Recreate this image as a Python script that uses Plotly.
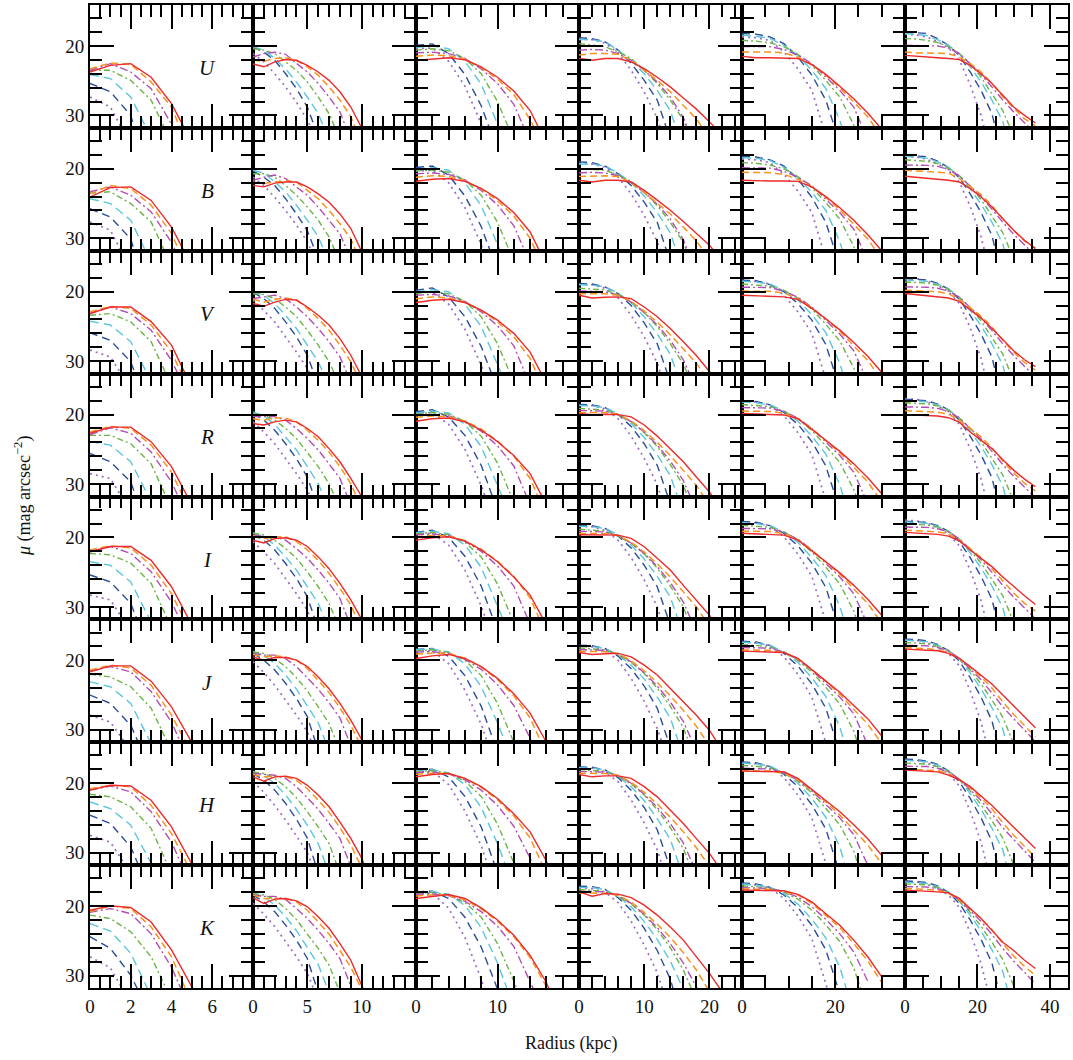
import plotly.graph_objects as go
from plotly.subplots import make_subplots

BANDS = ["U", "B", "V", "R", "I", "J", "H", "K"]
COL_X = [
    [0, 1, 2, 3, 4, 5, 6],
    [0, 1, 2, 3, 4, 5, 6, 7, 8, 9, 10, 11],
    [0, 2, 4, 6, 8, 10, 12, 14, 16, 18],
    [0, 2, 4, 6, 8, 10, 12, 14, 16, 18, 20, 22, 24],
    [0, 3, 6, 9, 12, 15, 18, 21, 24, 27, 30],
    [0, 3, 6, 9, 12, 15, 18, 21, 24, 27, 30, 33, 36],
]
X_RANGES = [[0, 8], [0, 15], [0, 20], [0, 25], [0, 35], [0, 45]]
X_TICKS = [[0, 2, 4, 6], [0, 5, 10], [0, 10], [0, 10, 20], [0, 20], [0, 20, 40]]
X_MINOR = [0.5, 1, 2, 2, 5, 5]
Y_RANGE = [31.8, 14.1]
Y_TICKS = [20, 30]

# curve order in every panel: purple, dark blue, cyan, green, magenta, orange, red
# ---------------- column 1 ----------------
U_c1 = [[27.35, 28.8, 34.3], [25.4, 26.6, 30.0, 40], [24.1, 24.7, 27.35, 33.2],
        [23.5, 23.5, 24.95, 27.8, 33.9], [23.5, 22.55, 23.75, 26.15, 31.3, 36],
        [23.3, 22.45, 22.65, 25.2, 28.8, 36], [23.75, 22.8, 22.55, 24.5, 28.3, 33.9]]
B_c1 = [[27.65, 28.85, 34.5], [25.75, 26.95, 30.1, 40], [24.3, 25.0, 27.4, 33.5],
        [23.5, 23.3, 25.0, 27.65, 34], [23.3, 22.6, 23.8, 26.2, 30.6, 37],
        [23.6, 22.4, 22.85, 25.25, 29.3, 36], [24.05, 22.7, 22.6, 24.55, 28.4, 34]]
V_c1 = [[28.4, 29.4, 34], [25.9, 27.0, 30.1, 38], [24.25, 24.8, 27.2, 32.9],
        [23.4, 23.15, 24.35, 27.2, 33.5], [23.15, 22.2, 23.15, 25.55, 29.9, 36],
        [22.9, 22.1, 22.4, 24.8, 28.7, 35], [23.15, 22.2, 22.2, 24.3, 27.7, 33.8]]
R_c1 = [[28.5, 29.2, 34], [25.6, 26.8, 29.7, 38], [23.9, 24.4, 26.8, 32.5],
        [23.0, 23.0, 24.2, 27.1, 33.5], [22.9, 21.9, 22.7, 25.4, 29.7, 36],
        [22.5, 21.7, 22.0, 24.4, 28.3, 34.5], [22.7, 21.8, 21.8, 23.9, 27.5, 33.0]]
I_c1 = [[28.3, 29.0, 33.5], [25.4, 26.4, 29.5, 37], [23.5, 24.0, 26.4, 32.2],
        [22.3, 22.5, 23.7, 26.6, 33], [22.06, 21.3, 22.3, 24.95, 29.3, 35.5],
        [21.8, 21.2, 21.5, 24.0, 28.1, 34], [22.06, 21.3, 21.3, 23.3, 27.1, 32.6]]
J_c1 = [[27.9, 28.9, 33], [25.0, 26.2, 29.35, 36], [23.1, 23.8, 26.2, 32],
        [22.0, 22.4, 23.8, 26.9, 33], [21.55, 20.9, 21.65, 24.5, 28.9, 35.5],
        [21.4, 20.7, 21.1, 23.6, 27.9, 33.5], [21.65, 20.8, 20.8, 23.0, 26.7, 31.9, 37]]
H_c1 = [[27.5, 28.5, 33], [24.6, 25.8, 29.2, 36], [22.7, 23.65, 26.05, 31.8, 37],
        [21.6, 21.95, 23.4, 26.5, 33], [21.0, 20.4, 21.25, 24.1, 28.5, 35],
        [20.8, 20.3, 20.5, 23.2, 27.25, 33], [21.0, 20.3, 20.4, 22.45, 26.3, 31.8, 37]]
K_c1 = [[27.3, 28.9, 34], [24.4, 26.1, 29.96, 36], [22.5, 23.6, 26.8, 33],
        [21.3, 21.8, 23.7, 27.3, 33.5], [20.9, 20.35, 21.1, 24.0, 28.8, 35.5],
        [20.8, 19.97, 20.35, 23.0, 27.3, 34], [20.6, 19.97, 20.2, 22.3, 26.3, 31.4, 37]]

# ---------------- column 2 ----------------
U_c2 = [[21.1, 22.3, 24.0, 25.9, 28.1, 30.7, 34], [20.1, 20.9, 22.06, 24.0, 26.15, 28.8, 33],
        [20.1, 20.6, 21.8, 23.3, 25.2, 27.35, 29.75, 33.5], [20.4, 20.6, 21.1, 22.3, 23.5, 25.2, 27.35, 29.75, 33.5],
        [21.6, 21.1, 20.9, 21.2, 22.5, 23.75, 25.4, 27.35, 29.5, 33.5],
        [22.06, 22.2, 21.8, 21.7, 22.06, 23.0, 24.2, 25.9, 27.8, 30.2, 34],
        [22.6, 23.0, 22.3, 21.96, 22.06, 22.8, 23.75, 24.95, 26.6, 28.8, 31.8, 35]]
B_c2 = [[21.2, 22.4, 24.1, 26.0, 28.1, 30.5, 34], [20.3, 21.2, 22.4, 24.3, 26.5, 28.9, 33],
        [20.2, 20.6, 21.9, 23.3, 25.25, 27.4, 29.8, 33.5], [20.7, 20.7, 21.2, 22.4, 23.8, 25.5, 27.4, 29.8, 33.5],
        [21.65, 21.2, 20.9, 21.4, 22.6, 23.8, 25.5, 27.4, 29.35, 33.0],
        [21.9, 22.1, 21.9, 21.7, 21.9, 23.1, 24.3, 26.0, 27.9, 30.1, 33.8],
        [22.4, 22.6, 22.05, 21.9, 21.9, 22.6, 23.6, 24.8, 26.5, 28.6, 31.9, 35]]
V_c2 = [[21.2, 22.7, 24.35, 26.5, 28.7, 31.1, 34], [20.1, 21.0, 22.4, 24.35, 26.5, 29.15, 33.5],
        [20.0, 20.5, 21.7, 23.4, 25.3, 27.7, 30.1, 33.5], [20.3, 20.4, 21.0, 22.2, 23.6, 25.55, 27.7, 30.1, 33.5],
        [21.0, 20.75, 20.5, 21.0, 22.2, 23.6, 25.3, 27.2, 29.4, 33.0],
        [21.1, 21.5, 21.1, 20.9, 21.2, 22.4, 23.9, 25.55, 27.7, 30.1, 33.5],
        [21.7, 22.1, 21.5, 21.1, 21.2, 22.2, 23.4, 24.8, 26.75, 29.15, 32.2, 35]]
R_c2 = [[21.05, 22.5, 24.2, 26.35, 28.5, 30.9, 34], [19.85, 20.8, 22.25, 24.2, 26.35, 29.0, 33.5],
        [19.6, 20.2, 21.4, 23.2, 25.1, 27.5, 29.95, 33.5], [19.85, 20.1, 20.8, 22.0, 23.45, 25.4, 27.5, 29.95, 33.5],
        [20.3, 20.3, 20.3, 20.8, 22.0, 23.45, 25.1, 27.1, 29.2, 33.0],
        [20.6, 20.8, 20.5, 20.5, 21.05, 22.25, 23.7, 25.4, 27.5, 29.95, 33.5],
        [21.3, 21.5, 21.05, 20.8, 21.05, 22.0, 23.2, 24.9, 26.8, 29.2, 31.8, 35]]
I_c2 = [[20.6, 22.1, 23.75, 25.9, 28.1, 30.5, 34], [19.6, 20.4, 21.8, 23.75, 25.9, 28.55, 33.2],
        [19.3, 19.9, 21.1, 22.8, 24.7, 27.1, 29.5, 33.2], [19.4, 19.65, 20.4, 21.6, 23.0, 24.95, 27.1, 29.5, 33.2],
        [19.65, 19.9, 19.9, 20.4, 21.6, 23.0, 24.7, 26.6, 28.8, 32.8],
        [19.75, 20.15, 19.9, 19.9, 20.6, 21.8, 23.3, 25.2, 27.35, 29.75, 33.2],
        [20.4, 20.8, 20.15, 20.05, 20.4, 21.3, 22.8, 24.5, 26.6, 29.0, 31.8, 35]]
J_c2 = [[20.2, 21.75, 23.6, 25.75, 27.9, 30.3, 34], [19.0, 19.97, 21.4, 23.3, 25.5, 28.1, 33.0],
        [18.7, 19.25, 20.45, 22.1, 24.15, 26.5, 29.0, 33.0], [18.8, 19.0, 19.75, 20.9, 22.5, 24.4, 26.7, 29.1, 33.0],
        [19.0, 19.25, 19.25, 19.75, 20.9, 22.5, 24.15, 26.1, 28.3, 32.3],
        [19.15, 19.5, 19.35, 19.5, 19.97, 21.2, 22.9, 24.65, 26.85, 29.35, 32.5],
        [19.5, 19.97, 19.6, 19.6, 19.97, 20.9, 22.4, 24.1, 26.2, 28.6, 31.4, 35]]
H_c2 = [[19.8, 21.3, 23.2, 25.3, 27.6, 30.0, 34], [18.6, 19.55, 21.0, 22.9, 25.2, 27.9, 33.0],
        [18.3, 18.85, 20.05, 21.7, 23.75, 26.05, 28.7, 33.0], [18.4, 18.6, 19.3, 20.5, 22.1, 24.1, 26.3, 28.7, 33.0],
        [18.6, 18.7, 18.85, 19.3, 20.5, 22.1, 23.75, 25.8, 27.95, 32.0],
        [18.75, 19.08, 19.0, 19.08, 19.6, 20.8, 22.45, 24.2, 26.4, 28.9, 32.2],
        [19.08, 19.7, 19.08, 18.98, 19.3, 20.3, 21.7, 23.4, 25.6, 27.95, 30.8, 34.5]]
K_c2 = [[19.6, 21.15, 22.95, 25.15, 27.3, 29.7, 33.5], [18.4, 19.4, 20.8, 22.75, 24.9, 27.55, 32.5],
        [18.1, 18.65, 19.85, 21.55, 23.55, 25.9, 28.4, 32.5], [18.2, 18.4, 19.05, 20.35, 21.95, 23.95, 26.1, 28.5, 32.5],
        [18.4, 18.6, 18.6, 19.05, 20.35, 21.8, 23.5, 25.4, 27.55, 31.5],
        [18.4, 18.9, 18.9, 18.9, 19.4, 20.6, 22.3, 24.05, 26.4, 28.8, 32.0],
        [18.77, 19.63, 19.0, 18.9, 19.25, 20.1, 21.55, 23.2, 25.4, 27.8, 31.4, 35]]

# ---------------- column 3 ----------------
U_c3 = [[20.4, 20.3, 22.2, 25.8, 31.2, 38], [19.9, 19.7, 21.1, 24.1, 28.6, 35],
        [20.2, 20.0, 20.4, 22.2, 25.5, 30.9, 37], [20.6, 20.4, 20.7, 21.8, 24.0, 28.0, 33.6],
        [21.0, 20.9, 21.1, 21.8, 23.3, 25.4, 28.4, 33.8],
        [21.5, 21.3, 21.4, 21.9, 23.1, 24.8, 27.0, 30.6, 35.5],
        [22.1, 21.9, 21.7, 22.0, 23.0, 24.5, 26.5, 29.3, 34]]
B_c3 = [[20.3, 20.2, 22.0, 25.6, 30.9, 37.5], [19.8, 19.6, 20.9, 23.9, 28.3, 34.7],
        [20.0, 19.85, 20.2, 22.0, 25.3, 30.6, 36.5], [20.3, 20.2, 20.5, 21.6, 23.8, 27.7, 33.3],
        [20.7, 20.6, 20.8, 21.6, 23.1, 25.2, 28.2, 33.6],
        [21.2, 21.0, 21.1, 21.7, 22.9, 24.6, 26.8, 30.0, 35.3],
        [21.8, 21.5, 21.4, 21.8, 22.8, 24.3, 26.3, 29.1, 33.8]]
V_c3 = [[20.1, 20.0, 21.8, 25.4, 30.6, 37], [19.8, 19.45, 20.75, 23.6, 27.9, 34.0],
        [20.0, 19.7, 20.0, 21.8, 25.0, 30.3, 36.0], [20.26, 20.0, 20.3, 21.4, 23.6, 27.5, 33.0],
        [20.5, 20.4, 20.6, 21.4, 22.9, 24.9, 27.8, 33.5],
        [21.0, 20.75, 20.9, 21.5, 22.7, 24.35, 26.5, 29.6, 35],
        [21.56, 21.23, 21.08, 21.56, 22.67, 24.1, 26.0, 28.7, 33.2]]
R_c3 = [[19.8, 19.7, 21.4, 25.0, 30.2, 37], [19.6, 19.3, 20.35, 23.0, 27.3, 33.8],
        [19.75, 19.5, 19.75, 21.4, 24.6, 29.8, 35.8], [19.9, 19.7, 19.95, 21.0, 23.1, 27.0, 32.6],
        [20.1, 20.0, 20.2, 20.95, 22.4, 24.5, 27.4, 33.0],
        [20.4, 20.2, 20.3, 20.9, 22.1, 23.8, 26.0, 29.2, 34.5],
        [20.96, 20.6, 20.5, 21.05, 22.25, 23.9, 25.9, 28.5, 33.0]]
I_c3 = [[19.5, 19.4, 21.1, 24.7, 29.9, 36.5], [19.27, 18.95, 20.0, 22.7, 27.0, 33.5],
        [19.3, 19.1, 19.45, 21.1, 24.3, 29.5, 35.5], [19.45, 19.3, 19.6, 20.7, 22.8, 26.7, 32.3],
        [19.6, 19.5, 19.75, 20.55, 22.0, 24.1, 27.0, 32.5],
        [19.9, 19.7, 19.8, 20.45, 21.7, 23.4, 25.6, 28.7, 34],
        [20.38, 20.04, 19.9, 20.5, 21.8, 23.5, 25.7, 28.3, 32.6]]
J_c3 = [[18.7, 18.6, 20.5, 24.3, 29.2, 36], [18.43, 18.3, 19.4, 22.2, 26.6, 33.2],
        [18.45, 18.35, 18.8, 20.5, 23.8, 29.0, 35], [18.6, 18.5, 18.85, 20.0, 22.2, 26.2, 31.8, 38],
        [18.8, 18.75, 19.0, 19.85, 21.3, 23.5, 26.5, 31.2, 37],
        [19.1, 18.95, 19.0, 19.7, 20.95, 22.8, 25.1, 28.3, 33.5],
        [19.73, 19.35, 19.15, 19.73, 20.9, 22.6, 24.8, 27.6, 31.8, 37]]
H_c3 = [[18.3, 18.25, 20.2, 24.0, 29.0, 36], [18.12, 18.0, 19.1, 21.9, 26.3, 32.9],
        [18.15, 18.05, 18.5, 20.2, 23.5, 28.7, 35], [18.3, 18.2, 18.55, 19.7, 21.9, 25.9, 31.5, 38],
        [18.45, 18.4, 18.65, 19.5, 21.0, 23.2, 26.2, 30.8, 37],
        [18.7, 18.55, 18.6, 19.3, 20.6, 22.4, 24.7, 27.9, 33],
        [19.08, 18.75, 18.6, 19.3, 20.5, 22.2, 24.4, 27.0, 31.2, 37]]
K_c3 = [[18.15, 18.1, 20.3, 24.5, 30.5, 38], [17.95, 17.85, 18.9, 21.6, 25.9, 31.6, 38],
        [18.0, 17.9, 18.3, 19.9, 23.1, 28.2, 34.5], [18.15, 18.05, 18.4, 19.5, 21.6, 25.4, 30.8, 37],
        [18.3, 18.25, 18.5, 19.3, 20.8, 22.9, 25.8, 30.6, 36],
        [18.55, 18.4, 18.45, 19.1, 20.4, 22.2, 24.4, 27.4, 31.6, 37],
        [18.9, 18.66, 18.33, 18.9, 20.25, 22.0, 24.2, 27.1, 31.0, 37]]

# ---------------- column 4 ----------------
U_c4 = [[19.0, 19.1, 19.6, 21.0, 23.5, 26.6, 30.4, 36], [18.8, 18.94, 19.4, 20.6, 22.5, 24.95, 27.8, 33.5],
        [19.08, 19.1, 19.4, 20.6, 22.06, 24.0, 26.4, 29.3, 35],
        [19.66, 19.9, 20.1, 20.86, 21.8, 23.5, 25.4, 27.8, 30.7, 35.5],
        [20.6, 20.5, 20.6, 21.1, 22.06, 23.5, 25.2, 27.35, 30.3, 35],
        [21.3, 21.1, 21.1, 21.2, 22.1, 23.5, 24.95, 26.6, 28.55, 30.5, 33.2],
        [21.8, 22.06, 21.8, 21.8, 22.3, 23.26, 24.5, 25.9, 27.5, 29.1, 30.9, 33.0]]
B_c4 = [[19.2, 19.3, 19.8, 21.2, 23.6, 26.7, 30.5, 36], [19.0, 19.1, 19.6, 20.7, 22.4, 24.8, 27.7, 33.4],
        [19.3, 19.3, 19.6, 20.6, 22.0, 23.9, 26.3, 29.2, 34.8],
        [20.0, 20.05, 20.2, 20.9, 21.8, 23.4, 25.3, 27.7, 30.6, 35.3],
        [20.6, 20.5, 20.6, 21.0, 22.0, 23.4, 25.1, 27.2, 30.2, 34.8],
        [21.1, 21.0, 21.0, 21.1, 22.0, 23.4, 24.9, 26.5, 28.4, 30.4, 33.0],
        [21.65, 21.9, 21.65, 21.65, 21.9, 23.1, 24.5, 25.97, 27.6, 29.3, 31.0, 33.2]]
V_c4 = [[18.9, 19.0, 19.5, 20.9, 23.4, 26.5, 30.3, 36], [18.82, 18.9, 19.3, 20.26, 22.0, 24.5, 27.5, 33.0],
        [19.0, 19.05, 19.3, 20.2, 21.6, 23.6, 26.1, 29.0, 34.5],
        [19.5, 19.6, 19.75, 20.4, 21.4, 23.0, 25.0, 27.5, 30.4, 35],
        [19.9, 19.9, 20.0, 20.5, 21.5, 23.0, 24.8, 27.0, 29.8, 34],
        [20.3, 20.3, 20.3, 20.5, 21.4, 22.8, 24.4, 26.2, 28.2, 30.3, 33.0],
        [20.5, 20.9, 20.8, 20.75, 21.0, 22.2, 23.6, 25.3, 27.2, 29.2, 31.5, 34]]
R_c4 = [[18.6, 18.7, 19.2, 20.6, 23.1, 26.3, 30.1, 36], [18.55, 18.6, 19.0, 20.0, 21.7, 24.2, 27.3, 32.8],
        [18.7, 18.75, 19.0, 19.9, 21.3, 23.3, 25.8, 28.8, 34.2],
        [19.1, 19.2, 19.35, 20.0, 21.0, 22.6, 24.6, 27.2, 30.2, 35],
        [19.4, 19.4, 19.5, 20.0, 21.0, 22.5, 24.4, 26.7, 29.5, 33.8],
        [19.7, 19.7, 19.7, 20.0, 20.9, 22.3, 24.0, 25.9, 28.0, 30.2, 33.0],
        [19.85, 20.0, 19.95, 20.0, 20.33, 21.5, 23.1, 24.9, 26.8, 29.0, 31.15, 33.8]]
I_c4 = [[18.4, 18.45, 19.0, 20.4, 22.9, 26.1, 30.0, 36], [18.2, 18.3, 18.7, 19.8, 21.5, 24.0, 27.1, 32.6],
        [18.4, 18.45, 18.7, 19.6, 21.1, 23.1, 25.6, 28.6, 34],
        [18.8, 18.9, 19.1, 19.8, 20.8, 22.4, 24.4, 27.0, 30.0, 35],
        [19.1, 19.1, 19.2, 19.75, 20.8, 22.3, 24.2, 26.5, 29.3, 33.6],
        [19.4, 19.4, 19.45, 19.75, 20.7, 22.1, 23.8, 25.7, 27.8, 30.0, 32.8],
        [19.6, 19.65, 19.65, 19.66, 20.14, 21.34, 23.0, 24.7, 26.9, 29.0, 31.2, 33.8]]
J_c4 = [[18.0, 18.05, 18.6, 20.0, 22.6, 25.9, 29.8, 35.5], [17.81, 17.9, 18.3, 19.4, 21.2, 23.7, 26.9, 32.5],
        [17.95, 18.0, 18.3, 19.2, 20.7, 22.7, 25.3, 28.3, 33.8],
        [18.2, 18.3, 18.5, 19.2, 20.3, 21.9, 24.0, 26.6, 29.7, 34.5],
        [18.45, 18.45, 18.55, 19.1, 20.2, 21.8, 23.7, 26.0, 28.8, 33],
        [18.7, 18.7, 18.75, 19.05, 20.05, 21.5, 23.2, 25.1, 27.2, 29.5, 32.3],
        [18.87, 19.15, 19.05, 19.0, 19.5, 20.7, 22.1, 24.06, 26.0, 27.9, 30.07, 33.0]]
H_c4 = [[17.8, 17.85, 18.4, 19.8, 22.4, 25.7, 29.6, 35.5], [17.64, 17.7, 18.1, 19.2, 21.0, 23.5, 26.7, 32.3],
        [17.75, 17.8, 18.1, 19.0, 20.5, 22.5, 25.1, 28.1, 33.5],
        [18.0, 18.1, 18.3, 19.0, 20.1, 21.7, 23.8, 26.4, 29.4, 34.2],
        [18.3, 18.3, 18.4, 18.9, 20.0, 21.6, 23.5, 25.8, 28.6, 32.8],
        [18.55, 18.55, 18.6, 18.9, 19.85, 21.3, 23.0, 24.9, 27.0, 29.3, 32.0],
        [18.75, 19.08, 18.95, 18.94, 19.3, 20.5, 21.97, 23.9, 25.8, 27.98, 30.1, 32.8]]
K_c4 = [[17.4, 17.5, 18.0, 19.5, 22.2, 25.6, 29.6, 35.5], [17.13, 17.2, 17.6, 18.8, 20.6, 23.2, 26.4, 30.5, 37],
        [17.3, 17.35, 17.6, 18.6, 20.1, 22.2, 24.8, 27.9, 32.0, 38],
        [17.6, 17.7, 17.9, 18.6, 19.7, 21.3, 23.4, 26.0, 29.2, 33.5],
        [17.85, 17.85, 17.95, 18.5, 19.6, 21.2, 23.1, 25.4, 28.2, 31.6, 36],
        [18.1, 18.1, 18.15, 18.45, 19.4, 20.9, 22.6, 24.5, 26.7, 29.2, 32.3],
        [17.95, 18.57, 18.2, 18.28, 18.77, 19.87, 21.3, 23.0, 24.9, 27.3, 29.7, 32.4]]

# ---------------- column 5 ----------------
U_c5 = [[18.7, 18.8, 19.2, 20.86, 23.3, 26.4, 33.0], [18.2, 18.3, 18.7, 19.66, 21.6, 24.2, 27.8, 34],
        [18.45, 18.6, 18.9, 19.9, 21.35, 23.5, 26.15, 30.7, 37],
        [19.2, 19.3, 19.55, 20.1, 21.2, 22.8, 24.95, 27.35, 31.4, 37],
        [20.1, 20.1, 20.1, 20.5, 21.3, 22.55, 24.5, 26.4, 28.8, 33.5],
        [20.86, 20.86, 20.86, 21.0, 21.6, 22.7, 24.2, 26.0, 28.1, 30.2, 33.2],
        [21.5, 21.7, 21.7, 21.7, 21.8, 22.7, 24.1, 25.8, 27.6, 29.65, 32.0]]
B_c5 = [[18.6, 18.7, 19.1, 20.8, 23.2, 26.3, 33.0], [18.2, 18.3, 18.7, 19.6, 21.5, 24.1, 27.7, 34],
        [18.4, 18.5, 18.8, 19.8, 21.25, 23.4, 26.0, 30.5, 37],
        [19.1, 19.2, 19.45, 20.0, 21.1, 22.7, 24.85, 27.25, 31.2, 37],
        [19.85, 19.85, 19.9, 20.35, 21.2, 22.45, 24.4, 26.3, 28.7, 33.3],
        [20.5, 20.5, 20.55, 20.8, 21.5, 22.6, 24.1, 25.9, 28.0, 30.1, 33.0],
        [21.65, 21.75, 21.75, 21.75, 21.8, 22.6, 24.0, 25.6, 27.4, 29.5, 31.8]]
V_c5 = [[18.4, 18.5, 18.9, 20.5, 22.9, 26.0, 32.6], [18.34, 18.4, 18.97, 20.0, 21.7, 24.1, 27.6, 34],
        [18.5, 18.6, 18.9, 19.8, 21.2, 23.3, 25.9, 30.3, 37],
        [18.9, 19.0, 19.2, 19.8, 20.9, 22.5, 24.7, 27.1, 31.0, 37],
        [19.35, 19.35, 19.4, 19.9, 20.8, 22.2, 24.1, 26.1, 28.5, 33.0],
        [19.9, 19.9, 19.95, 20.2, 21.0, 22.3, 23.9, 25.7, 27.8, 29.9, 32.8],
        [20.5, 20.6, 20.65, 20.75, 21.1, 22.4, 23.9, 25.5, 27.3, 29.3, 31.6]]
R_c5 = [[18.1, 18.2, 18.6, 20.2, 22.6, 25.8, 32.4], [18.02, 18.1, 18.6, 19.7, 21.4, 23.9, 27.4, 33.8],
        [18.2, 18.3, 18.6, 19.5, 20.95, 23.1, 25.7, 30.1, 36.8],
        [18.55, 18.65, 18.85, 19.5, 20.6, 22.3, 24.5, 26.9, 30.8, 36.8],
        [19.0, 19.0, 19.05, 19.55, 20.5, 22.0, 23.9, 25.9, 28.3, 32.8],
        [19.5, 19.5, 19.55, 19.8, 20.6, 22.0, 23.7, 25.5, 27.6, 29.7, 32.6],
        [19.85, 19.95, 20.0, 20.05, 20.6, 22.1, 23.7, 25.3, 27.1, 29.1, 31.4]]
I_c5 = [[17.8, 17.9, 18.3, 19.9, 22.4, 25.6, 32.2], [17.7, 17.8, 18.3, 19.4, 21.2, 23.7, 27.2, 33.6],
        [17.9, 18.0, 18.3, 19.2, 20.7, 22.9, 25.5, 29.9, 36.6],
        [18.25, 18.35, 18.55, 19.2, 20.35, 22.1, 24.3, 26.7, 30.6, 36.6],
        [18.7, 18.7, 18.75, 19.25, 20.25, 21.8, 23.7, 25.7, 28.1, 32.6],
        [19.1, 19.1, 19.15, 19.45, 20.3, 21.8, 23.5, 25.3, 27.4, 29.5, 32.4],
        [19.4, 19.5, 19.55, 19.66, 20.38, 21.9, 23.5, 25.1, 26.9, 28.9, 31.2]]
J_c5 = [[17.4, 17.5, 17.9, 19.5, 22.0, 25.3, 31.9, 38], [17.23, 17.35, 17.85, 19.0, 20.8, 23.4, 26.9, 33.3],
        [17.4, 17.5, 17.85, 18.8, 20.3, 22.5, 25.2, 29.6, 36.3],
        [17.75, 17.85, 18.1, 18.8, 20.0, 21.7, 23.9, 26.3, 30.2, 36.3],
        [18.15, 18.15, 18.25, 18.8, 19.85, 21.4, 23.3, 25.3, 27.7, 32.2],
        [18.5, 18.5, 18.55, 18.9, 19.8, 21.3, 23.0, 24.9, 27.0, 29.2, 32.0],
        [18.67, 18.75, 18.8, 18.87, 19.73, 21.4, 23.0, 24.6, 26.5, 28.4, 30.9]]
H_c5 = [[17.1, 17.2, 17.6, 19.2, 21.7, 25.0, 31.6, 38], [16.92, 17.05, 17.6, 18.7, 20.5, 23.1, 26.6, 33.0],
        [17.1, 17.2, 17.55, 18.5, 20.0, 22.2, 24.9, 29.2, 36],
        [17.45, 17.55, 17.8, 18.5, 19.7, 21.4, 23.6, 26.0, 29.8, 36],
        [17.85, 17.85, 17.95, 18.5, 19.55, 21.1, 23.0, 25.0, 27.4, 31.8],
        [18.2, 18.2, 18.25, 18.6, 19.5, 21.0, 22.7, 24.6, 26.7, 28.9, 31.6],
        [18.26, 18.3, 18.33, 18.36, 19.3, 20.9, 22.5, 24.1, 26.0, 28.0, 30.4]]
K_c5 = [[16.85, 16.95, 17.35, 18.9, 21.4, 24.7, 31.2, 38], [16.65, 16.8, 17.3, 18.4, 20.2, 22.8, 26.3, 32.6],
        [16.85, 16.95, 17.3, 18.2, 19.7, 21.9, 24.6, 28.8, 35.5],
        [17.1, 17.2, 17.45, 18.0, 19.0, 20.6, 22.7, 25.1, 28.9, 35],
        [17.35, 17.35, 17.45, 17.9, 18.7, 20.1, 21.9, 24.0, 26.6, 30.8],
        [17.55, 17.55, 17.6, 17.9, 18.4, 19.6, 21.3, 23.1, 25.4, 27.9, 31.0],
        [17.7, 17.75, 17.78, 17.8, 18.3, 19.4, 21.1, 22.75, 24.9, 27.3, 30.2]]

# ---------------- column 6 ----------------
U_c6 = [[18.3, 18.4, 18.7, 19.4, 20.3, 22.0, 25.6, 30.0, 36], [17.98, 18.05, 18.2, 18.94, 19.9, 21.35, 23.75, 26.4, 29.75, 36],
        [18.2, 18.3, 18.5, 19.1, 19.9, 21.1, 23.0, 25.2, 27.8, 30.9, 37],
        [18.94, 19.0, 19.2, 19.5, 20.1, 21.1, 22.55, 24.5, 26.9, 29.3, 33.0],
        [19.9, 19.9, 19.9, 20.0, 20.3, 21.1, 22.55, 24.1, 25.9, 27.8, 29.5, 31.1, 32.6],
        [20.86, 21.0, 21.0, 21.0, 21.1, 21.6, 22.55, 23.75, 25.4, 27.35, 29.0, 30.5, 31.5],
        [21.35, 21.5, 21.6, 21.7, 21.8, 21.96, 22.8, 24.0, 25.4, 27.1, 28.8, 30.0, 31.1]]
B_c6 = [[18.2, 18.3, 18.6, 19.3, 20.2, 21.9, 25.4, 29.8, 36], [18.05, 18.1, 18.25, 18.9, 19.8, 21.3, 23.6, 26.3, 29.6, 36],
        [18.2, 18.3, 18.45, 19.0, 19.8, 21.0, 22.9, 25.1, 27.7, 30.8, 37],
        [18.7, 18.75, 18.9, 19.25, 19.95, 21.0, 22.5, 24.4, 26.8, 29.2, 33],
        [19.45, 19.45, 19.5, 19.65, 20.1, 21.0, 22.5, 24.0, 25.8, 27.7, 29.4, 31.0, 32.5],
        [20.2, 20.3, 20.35, 20.4, 20.6, 21.4, 22.5, 23.7, 25.3, 27.2, 28.9, 30.4, 31.4],
        [21.07, 21.2, 21.35, 21.5, 21.65, 21.9, 22.85, 24.05, 25.5, 27.2, 28.85, 30.3, 31.5]]
V_c6 = [[18.0, 18.1, 18.4, 19.1, 20.0, 21.7, 25.2, 29.6, 36], [18.1, 18.15, 18.3, 18.8, 19.6, 21.1, 23.4, 26.1, 29.4, 36],
        [18.3, 18.35, 18.5, 18.9, 19.6, 20.8, 22.7, 24.9, 27.5, 30.6, 37],
        [18.6, 18.65, 18.75, 19.05, 19.7, 20.8, 22.3, 24.2, 26.6, 29.0, 32.8],
        [19.3, 19.3, 19.35, 19.5, 19.9, 20.8, 22.3, 23.8, 25.6, 27.5, 29.2, 30.8, 32.3],
        [19.78, 19.85, 19.9, 20.0, 20.3, 21.1, 22.3, 23.5, 25.1, 27.0, 28.7, 30.2, 31.3],
        [20.26, 20.4, 20.55, 20.75, 20.9, 21.4, 22.6, 23.8, 25.3, 26.9, 28.5, 29.8, 30.8]]
R_c6 = [[17.7, 17.8, 18.1, 18.8, 19.7, 21.4, 24.9, 29.3, 35.5], [17.78, 17.85, 18.0, 18.5, 19.3, 20.8, 23.1, 25.8, 29.1, 35.5],
        [17.95, 18.0, 18.15, 18.6, 19.3, 20.5, 22.4, 24.6, 27.2, 30.3, 36.5],
        [18.3, 18.35, 18.45, 18.75, 19.4, 20.5, 22.0, 23.9, 26.3, 28.7, 32.5],
        [18.9, 18.9, 18.95, 19.1, 19.55, 20.5, 22.0, 23.5, 25.3, 27.2, 28.9, 30.5, 32.0],
        [19.45, 19.5, 19.55, 19.65, 19.95, 20.8, 22.0, 23.2, 24.8, 26.7, 28.4, 29.9, 31.0],
        [20.0, 20.05, 20.1, 20.2, 20.45, 21.1, 22.5, 23.7, 24.9, 26.5, 28.0, 29.3, 30.4]]
I_c6 = [[17.5, 17.6, 17.9, 18.6, 19.5, 21.2, 24.7, 29.1, 35.3], [17.64, 17.7, 17.85, 18.3, 19.1, 20.6, 22.9, 25.6, 28.9, 35.3],
        [17.75, 17.8, 17.95, 18.4, 19.1, 20.3, 22.2, 24.4, 27.0, 30.1, 36.3],
        [18.05, 18.1, 18.2, 18.5, 19.15, 20.25, 21.8, 23.7, 26.0, 28.4, 32.2],
        [18.5, 18.5, 18.55, 18.75, 19.2, 20.2, 21.7, 23.2, 25.0, 26.9, 28.6, 30.2, 31.7],
        [18.95, 19.0, 19.05, 19.2, 19.5, 20.4, 21.6, 22.9, 24.5, 26.3, 28.0, 29.5, 30.6],
        [19.27, 19.35, 19.45, 19.56, 19.8, 20.5, 21.8, 23.0, 24.2, 25.7, 27.1, 28.4, 29.66]]
J_c6 = [[17.0, 17.1, 17.4, 18.1, 19.0, 20.8, 24.4, 28.9, 35], [16.94, 17.0, 17.2, 17.7, 18.6, 20.1, 22.5, 25.3, 28.7, 35],
        [17.1, 17.15, 17.3, 17.8, 18.6, 19.8, 21.8, 24.1, 26.8, 29.9, 36],
        [17.45, 17.5, 17.6, 17.95, 18.6, 19.75, 21.4, 23.4, 25.7, 28.2, 32],
        [17.85, 17.85, 17.9, 18.15, 18.65, 19.7, 21.2, 22.8, 24.7, 26.7, 28.4, 30.1, 31.7],
        [18.2, 18.25, 18.3, 18.5, 18.9, 19.8, 21.0, 22.4, 24.0, 26.0, 27.8, 29.4, 31.0],
        [18.38, 18.45, 18.55, 18.62, 19.0, 19.7, 20.9, 22.1, 23.4, 25.0, 26.6, 28.1, 29.7]]
H_c6 = [[16.6, 16.7, 17.0, 17.7, 18.6, 20.4, 24.0, 28.5, 34.7], [16.53, 16.6, 16.8, 17.3, 18.2, 19.8, 22.2, 25.0, 28.4, 34.7],
        [16.7, 16.75, 16.9, 17.4, 18.25, 19.5, 21.5, 23.8, 26.5, 29.6, 35.7],
        [17.1, 17.15, 17.25, 17.6, 18.3, 19.45, 21.1, 23.1, 25.4, 27.9, 31.7],
        [17.55, 17.55, 17.6, 17.85, 18.35, 19.4, 20.9, 22.5, 24.4, 26.4, 28.1, 29.8, 31.4],
        [17.95, 18.0, 18.05, 18.2, 18.6, 19.5, 20.7, 22.1, 23.7, 25.7, 27.5, 29.1, 30.7],
        [18.12, 18.2, 18.3, 18.36, 18.84, 19.5, 20.5, 21.9, 23.2, 24.8, 26.3, 27.9, 29.4]]
K_c6 = [[16.4, 16.5, 16.8, 17.5, 18.4, 20.2, 23.8, 28.3, 34.5], [16.36, 16.45, 16.6, 17.1, 18.0, 19.6, 22.0, 24.8, 28.2, 34.5],
        [16.55, 16.6, 16.75, 17.2, 18.05, 19.3, 21.3, 23.6, 26.3, 29.4, 35.5],
        [16.8, 16.85, 16.95, 17.3, 18.05, 19.2, 20.9, 22.9, 25.2, 27.7, 31.5],
        [17.2, 17.2, 17.25, 17.5, 18.05, 19.1, 20.6, 22.2, 24.1, 26.1, 27.9, 29.6, 31.2],
        [17.45, 17.5, 17.55, 17.7, 18.15, 19.15, 20.4, 21.8, 23.4, 25.4, 27.2, 28.7, 30.0],
        [17.7, 17.75, 17.85, 17.95, 18.1, 18.9, 20.35, 21.8, 23.5, 25.2, 26.4, 27.8, 29.0]]

PANELS = {
    "U": [U_c1, U_c2, U_c3, U_c4, U_c5, U_c6],
    "B": [B_c1, B_c2, B_c3, B_c4, B_c5, B_c6],
    "V": [V_c1, V_c2, V_c3, V_c4, V_c5, V_c6],
    "R": [R_c1, R_c2, R_c3, R_c4, R_c5, R_c6],
    "I": [I_c1, I_c2, I_c3, I_c4, I_c5, I_c6],
    "J": [J_c1, J_c2, J_c3, J_c4, J_c5, J_c6],
    "H": [H_c1, H_c2, H_c3, H_c4, H_c5, H_c6],
    "K": [K_c1, K_c2, K_c3, K_c4, K_c5, K_c6],
}

STYLES = [
    ("#9d6cc6", "2px,4px", 1.7),
    ("#2b4c9b", "8px,5px", 1.4),
    ("#5cc6db", "9px,5px", 1.4),
    ("#6cb545", "6px,3px,2px,3px", 1.4),
    ("#b24fb5", "8px,3px,2px,3px", 1.4),
    ("#f7931e", "7px,4px", 1.5),
    ("#ee2a2b", "solid", 1.4),
]

FONT = "Liberation Serif"
NR, NC = 8, 6
fig = make_subplots(rows=NR, cols=NC, horizontal_spacing=0, vertical_spacing=0)

for r, band in enumerate(BANDS):
    for c in range(NC):
        xs = COL_X[c]
        for k, vals in enumerate(PANELS[band][c]):
            col, dash, w = STYLES[k]
            fig.add_trace(go.Scatter(
                x=xs[:len(vals)], y=vals, mode="lines",
                line=dict(color=col, dash=dash, width=w),
                showlegend=False, hoverinfo="skip"),
                row=r + 1, col=c + 1)

for r in range(NR):
    for c in range(NC):
        fig.update_xaxes(
            range=X_RANGES[c], tickmode="array", tickvals=X_TICKS[c],
            ticks="inside", ticklen=24, tickwidth=1.6, tickcolor="black",
            showline=True, linecolor="black", linewidth=1.8, mirror="allticks",
            showgrid=False, zeroline=False,
            showticklabels=(r == NR - 1),
            tickfont=dict(family=FONT, size=19, color="#111"),
            minor=dict(dtick=X_MINOR[c], tick0=0, ticks="inside", ticklen=12,
                       tickwidth=1.6, tickcolor="black", showgrid=False),
            row=r + 1, col=c + 1)
        fig.update_yaxes(
            range=Y_RANGE, tickmode="array", tickvals=Y_TICKS,
            ticks="inside", ticklen=24, tickwidth=1.6, tickcolor="black",
            showline=True, linecolor="black", linewidth=1.8, mirror="allticks",
            showgrid=False, zeroline=False,
            showticklabels=(c == 0),
            tickfont=dict(family=FONT, size=19, color="#111"),
            minor=dict(dtick=2, tick0=0, ticks="inside", ticklen=12,
                       tickwidth=1.6, tickcolor="black", showgrid=False),
            row=r + 1, col=c + 1)

annotations = []
for r, band in enumerate(BANDS):
    idx = r * NC + 1
    sfx = "" if idx == 1 else str(idx)
    annotations.append(dict(
        x=5.75, y=23.2, xref="x" + sfx, yref="y" + sfx,
        text="<i>%s</i>" % band, showarrow=False,
        font=dict(family=FONT, size=21, color="#111")))

annotations.append(dict(
    x=0.492, y=-0.056, xref="paper", yref="paper", text="Radius (kpc)",
    showarrow=False, font=dict(family=FONT, size=18, color="#111"),
    xanchor="center", yanchor="middle"))
annotations.append(dict(
    x=-0.069, y=0.5, xref="paper", yref="paper",
    text="<i>μ</i> (mag arcsec<sup>−2</sup>)", textangle=-90,
    showarrow=False, font=dict(family=FONT, size=18, color="#111"),
    xanchor="center", yanchor="middle"))

fig.update_layout(
    width=1073, height=1060,
    margin=dict(l=90, r=3, t=5, b=72),
    plot_bgcolor="white", paper_bgcolor="white",
    annotations=annotations,
)

fig.write_html("out.html", config={"displayModeBar": False},
               post_script="document.body.style.margin='0px';")
